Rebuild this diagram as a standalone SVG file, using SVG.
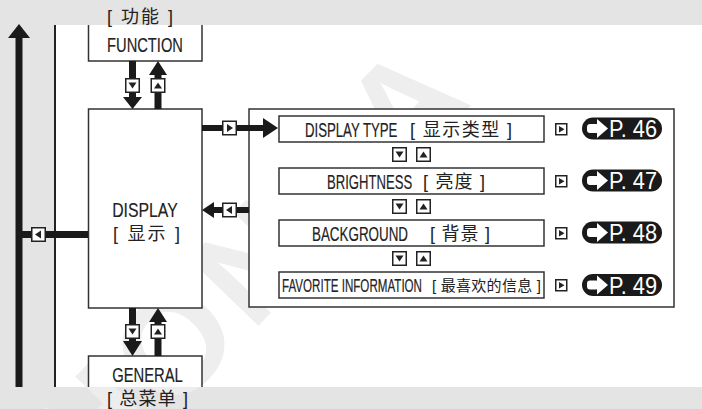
<svg xmlns="http://www.w3.org/2000/svg" xmlns:xlink="http://www.w3.org/1999/xlink" width="702" height="409" viewBox="0 0 702 409">
<style>
.lat{font-family:"Liberation Sans",Arial,sans-serif;fill:#222;stroke:#222;stroke-width:0.12}
.cjk{font-family:"Liberation Sans","Noto Sans CJK SC",sans-serif;fill:#222;font-size:18px}
.box{fill:#fff;stroke:#333;stroke-width:1.5}
.shaft{stroke:#1a1a1a;stroke-width:7;fill:none}
.head{fill:#1a1a1a}
.badge{fill:#1a1a1a}
.btxt{font-family:"Liberation Sans",Arial,sans-serif;fill:#fff;font-size:23px}
.wm{font-family:"Liberation Sans",Arial,sans-serif;font-weight:bold;font-size:140px}
</style>
<defs>
<clipPath id="whiteClip"><rect x="56" y="25" width="646" height="362"/></clipPath>
<text id="wm" class="wm" x="0" y="0" transform="translate(95,495) rotate(-46)" letter-spacing="8">HONDA</text>
<g id="bDown"><rect x="0.75" y="0.75" width="13.5" height="13.5" fill="#fff" stroke="#222" stroke-width="1.5"/><polygon points="3.5,4.5 11.5,4.5 7.5,10.5" fill="#222"/></g>
<g id="bUp"><rect x="0.75" y="0.75" width="13.5" height="13.5" fill="#fff" stroke="#222" stroke-width="1.5"/><polygon points="3.5,10.5 11.5,10.5 7.5,4.5" fill="#222"/></g>
<g id="bRight"><rect x="0.75" y="0.75" width="13.5" height="13.5" fill="#fff" stroke="#222" stroke-width="1.5"/><polygon points="5,3.5 5,11.5 11,7.5" fill="#222"/></g>
<g id="bLeft"><rect x="0.75" y="0.75" width="13.5" height="13.5" fill="#fff" stroke="#222" stroke-width="1.5"/><polygon points="10,3.5 10,11.5 4,7.5" fill="#222"/></g>
<g id="sRight"><rect x="0.75" y="0.75" width="11" height="11" fill="#fff" stroke="#222" stroke-width="1.5"/><polygon points="4,3 4,9.5 9.5,6.25" fill="#222"/></g>
<g id="badgeArrow"><rect x="0" y="-4.5" width="12" height="9" rx="3" fill="#fff"/><polygon points="10,-9.5 10,9.5 21,0" fill="#fff"/></g>
</defs>

<!-- background -->
<rect x="0" y="0" width="702" height="409" fill="#e4e4e4"/>
<use xlink:href="#wm" href="#wm" fill="#ededed"/>
<rect x="56" y="25" width="646" height="362" fill="#fff"/>
<use xlink:href="#wm" href="#wm" fill="#eeeeee" clip-path="url(#whiteClip)"/>
<line x1="55" y1="25" x2="55" y2="387" stroke="#222" stroke-width="2"/>

<!-- nodes -->
<g id="node-function">
<path d="M88.5,25 V61 H202 V25" class="box"/>
<text class="cjk" x="140" y="23" text-anchor="middle" textLength="66" lengthAdjust="spacing">[ 功能 ]</text>
<text class="lat" x="145" y="52" text-anchor="middle" style="font-size:14.7px" transform="matrix(1,0,0,1.33,0,-17.16)">FUNCTION</text>
</g>
<g id="node-display">
<rect x="88.5" y="109" width="113.5" height="199" class="box"/>
<text class="lat" x="145" y="217" text-anchor="middle" style="font-size:15.8px" transform="matrix(1,0,0,1.32,0,-69.44)">DISPLAY</text>
<text class="cjk" x="146.5" y="240" text-anchor="middle" textLength="67" lengthAdjust="spacing">[ 显示 ]</text>
</g>
<g id="node-general">
<path d="M88.5,387 V356 H202 V387" class="box"/>
<text class="lat" x="147.5" y="382" text-anchor="middle" style="font-size:14.8px" transform="matrix(1,0,0,1.32,0,-122.24)">GENERAL</text>
<text class="cjk" x="147.5" y="405" text-anchor="middle" textLength="81" lengthAdjust="spacing">[ 总菜单 ]</text>
</g>
<g id="node-panel">
<rect x="249" y="109" width="425" height="198" class="box"/>
</g>
<g id="node-display-type">
<rect x="279" y="116" width="265" height="26" class="box"/>
<text class="lat" x="305" y="137" style="font-size:13.2px" transform="matrix(1,0,0,1.59,0,-80.83)">DISPLAY TYPE</text>
<text class="cjk" x="410" y="136" textLength="102" lengthAdjust="spacing">[ 显示类型 ]</text>
<use xlink:href="#sRight" href="#sRight" x="555" y="123"/>
<rect x="582" y="117.5" width="80" height="22" rx="11" class="badge"/>
<use xlink:href="#badgeArrow" href="#badgeArrow" x="587" y="128.5"/>
<text class="btxt" x="609" y="137" textLength="48" lengthAdjust="spacingAndGlyphs">P. 46</text>
</g>
<g id="node-brightness">
<rect x="279" y="168" width="265" height="26" class="box"/>
<text class="lat" x="327" y="189" style="font-size:13.1px" transform="matrix(1,0,0,1.6,0,-113.4)">BRIGHTNESS</text>
<text class="cjk" x="423" y="188" textLength="62" lengthAdjust="spacing">[ 亮度 ]</text>
<use xlink:href="#sRight" href="#sRight" x="555" y="175"/>
<rect x="582" y="169.5" width="80" height="22" rx="11" class="badge"/>
<use xlink:href="#badgeArrow" href="#badgeArrow" x="587" y="180.5"/>
<text class="btxt" x="609" y="189" textLength="48" lengthAdjust="spacingAndGlyphs">P. 47</text>
</g>
<g id="node-background">
<rect x="279" y="220" width="265" height="26" class="box"/>
<text class="lat" x="312" y="241" style="font-size:13.4px" transform="matrix(1,0,0,1.56,0,-134.96)">BACKGROUND</text>
<text class="cjk" x="430" y="240" textLength="60" lengthAdjust="spacing">[ 背景 ]</text>
<use xlink:href="#sRight" href="#sRight" x="555" y="227"/>
<rect x="582" y="221.5" width="80" height="22" rx="11" class="badge"/>
<use xlink:href="#badgeArrow" href="#badgeArrow" x="587" y="232.5"/>
<text class="btxt" x="609" y="241" textLength="48" lengthAdjust="spacingAndGlyphs">P. 48</text>
</g>
<g id="node-favorite">
<rect x="279" y="272" width="265" height="26" class="box"/>
<text class="lat" x="282" y="292" style="font-size:11.6px" transform="matrix(1,0,0,1.6,0,-175.2)">FAVORITE INFORMATION</text>
<text class="cjk" x="432" y="291" style="font-size:15px" textLength="109" lengthAdjust="spacing">[ 最喜欢的信息 ]</text>
<use xlink:href="#sRight" href="#sRight" x="555" y="279"/>
<rect x="582" y="274" width="80" height="22" rx="11" class="badge"/>
<use xlink:href="#badgeArrow" href="#badgeArrow" x="587" y="285"/>
<text class="btxt" x="609" y="293.5" textLength="48" lengthAdjust="spacingAndGlyphs">P. 49</text>
</g>

<!-- connectors -->
<g id="connectors">
<line x1="19" y1="37" x2="19" y2="387" class="shaft"/>
<polygon points="8,38 30,38 19,24" class="head"/>
<line x1="19" y1="234.5" x2="88" y2="234.5" class="shaft"/>
<use xlink:href="#bLeft" href="#bLeft" x="31" y="227"/>
<line x1="132.5" y1="61" x2="132.5" y2="98" class="shaft"/>
<polygon points="123,97 142,97 132.5,109" class="head"/>
<use xlink:href="#bDown" href="#bDown" x="125" y="78"/>
<line x1="158" y1="74" x2="158" y2="109" class="shaft"/>
<polygon points="149,75 167,75 158,61" class="head"/>
<use xlink:href="#bUp" href="#bUp" x="150.5" y="78"/>
<line x1="132.5" y1="308" x2="132.5" y2="342" class="shaft"/>
<polygon points="123,341 142,341 132.5,356" class="head"/>
<use xlink:href="#bDown" href="#bDown" x="125" y="324"/>
<line x1="158" y1="321" x2="158" y2="356" class="shaft"/>
<polygon points="149,322 167,322 158,308" class="head"/>
<use xlink:href="#bUp" href="#bUp" x="150.5" y="324"/>
<line x1="202" y1="128" x2="264" y2="128" class="shaft" style="stroke-width:6"/>
<polygon points="263,118 263,138 278,128" class="head"/>
<use xlink:href="#bRight" href="#bRight" x="222" y="120.5"/>
<line x1="213" y1="210" x2="249" y2="210" class="shaft" style="stroke-width:6"/>
<polygon points="214,202 214,218 202,210" class="head"/>
<use xlink:href="#bLeft" href="#bLeft" x="222" y="202.5"/>
<use xlink:href="#bDown" href="#bDown" x="392" y="147"/>
<use xlink:href="#bUp" href="#bUp" x="416" y="147"/>
<use xlink:href="#bDown" href="#bDown" x="392" y="199"/>
<use xlink:href="#bUp" href="#bUp" x="416" y="199"/>
<use xlink:href="#bDown" href="#bDown" x="392" y="251"/>
<use xlink:href="#bUp" href="#bUp" x="416" y="251"/>
</g>
</svg>
